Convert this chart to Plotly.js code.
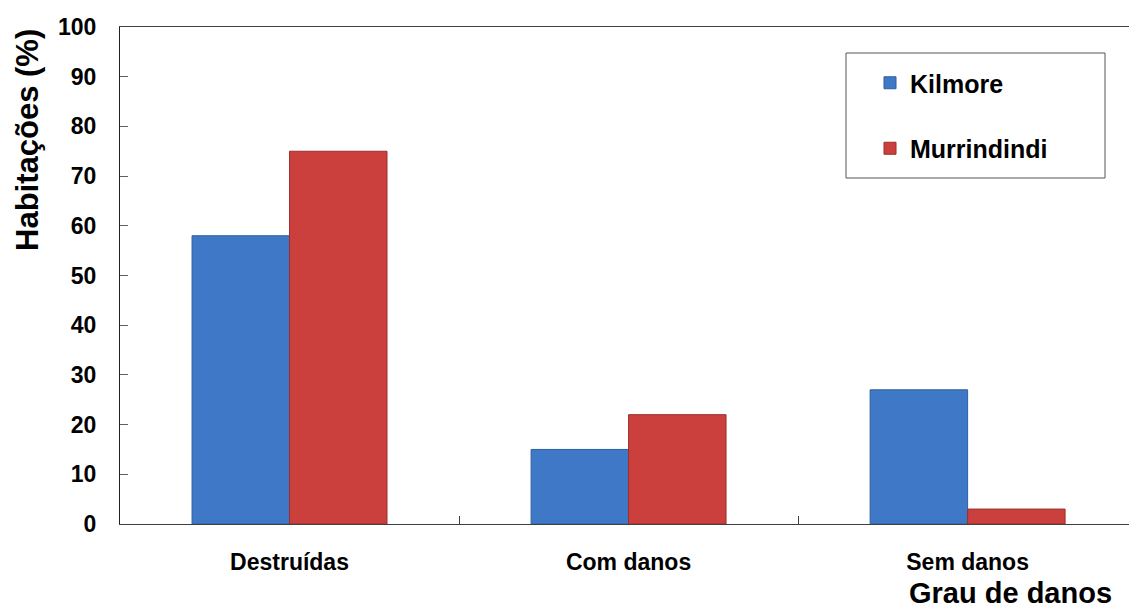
<!DOCTYPE html>
<html>
<head>
<meta charset="utf-8">
<script src="https://cdn.plot.ly/plotly-3.0.1.min.js"></script>
<style>
  html, body { margin: 0; padding: 0; background: #ffffff; }
  #chart { width: 1129px; height: 608px; }
</style>
</head>
<body>
<div id="chart"></div>
<script>
// ---- Data ----
const categories = ["Destruídas", "Com danos", "Sem danos"];
const kilmoreValues = [58, 15, 27];
const murrindindiValues = [75, 22, 3];
const seriesNames = ["Kilmore", "Murrindindi"];
const yTickValues = [0, 10, 20, 30, 40, 50, 60, 70, 80, 90, 100];
const yTitle = "Habitações (%)";
const xTitle = "Grau de danos";

// ---- Layout geometry (pixels) ----
const W = 1129, H = 608;
const M = { l: 120, r: 0, t: 27, b: 84 };
const plotW = W - M.l - M.r;
const plotH = H - M.t - M.b;
const px2x = p => (p - M.l) / plotW;
const px2y = p => (H - M.b - p) / plotH;

const FONT = "Arial, 'Liberation Sans', sans-serif";

const traces = [
  {
    type: "bar",
    name: seriesNames[0],
    x: categories,
    y: kilmoreValues,
    legendgroup: "a",
    marker: { color: "#3e78c6", line: { color: "#2f5f9e", width: 1 } },
    hoverinfo: "x+y+name"
  },
  {
    type: "bar",
    name: seriesNames[1],
    x: categories,
    y: murrindindiValues,
    legendgroup: "b",
    marker: { color: "#cb403d", line: { color: "#9a2f2c", width: 1 } },
    hoverinfo: "x+y+name"
  }
];

const layout = {
  width: W,
  height: H,
  margin: M,
  paper_bgcolor: "#ffffff",
  plot_bgcolor: "#ffffff",
  barmode: "group",
  bargap: 0.425,
  bargroupgap: 0,
  font: { family: FONT, color: "#000000" },
  showlegend: true,
  legend: {
    x: px2x(870),
    y: px2y(60),
    xanchor: "left",
    yanchor: "top",
    bgcolor: "rgba(0,0,0,0)",
    borderwidth: 0,
    traceorder: "grouped",
    tracegroupgap: 30,
    font: { family: FONT, size: 25, color: "#000000", weight: "bold" }
  },
  xaxis: {
    type: "category",
    range: [-0.5, 2.476],
    showline: true,
    linecolor: "#404040",
    linewidth: 1,
    mirror: true,
    ticks: "inside",
    tickson: "boundaries",
    ticklen: 8,
    tickcolor: "#404040",
    showgrid: false,
    zeroline: false,
    ticklabelstandoff: 17,
    tickfont: { family: FONT, size: 23, color: "#000000", weight: "bold" },
    fixedrange: true
  },
  yaxis: {
    range: [0, 100],
    tickvals: yTickValues,
    showline: true,
    linecolor: "#202020",
    linewidth: 1,
    ticks: "inside",
    ticklen: 8,
    tickcolor: "#606060",
    showgrid: false,
    zeroline: false,
    ticklabelstandoff: 18,
    tickfont: { family: FONT, size: 23, color: "#000000", weight: "bold" },
    fixedrange: true
  },
  shapes: [
    {
      type: "rect",
      xref: "paper", yref: "paper",
      x0: px2x(846), x1: px2x(1105),
      y0: px2y(178), y1: px2y(53),
      line: { color: "#555555", width: 1 },
      fillcolor: "rgba(0,0,0,0)"
    }
  ],
  annotations: [
    {
      text: yTitle,
      xref: "paper", yref: "paper",
      x: px2x(27), y: px2y(140),
      xanchor: "center", yanchor: "middle",
      textangle: -90,
      showarrow: false,
      font: { family: FONT, size: 31, color: "#000000", weight: "bold" }
    },
    {
      text: xTitle,
      xref: "paper", yref: "paper",
      x: px2x(1010), y: px2y(593),
      xanchor: "center", yanchor: "middle",
      showarrow: false,
      font: { family: FONT, size: 29, color: "#000000", weight: "bold" }
    }
  ]
};

Plotly.newPlot("chart", traces, layout, { displayModeBar: false, staticPlot: true });
</script>
</body>
</html>
